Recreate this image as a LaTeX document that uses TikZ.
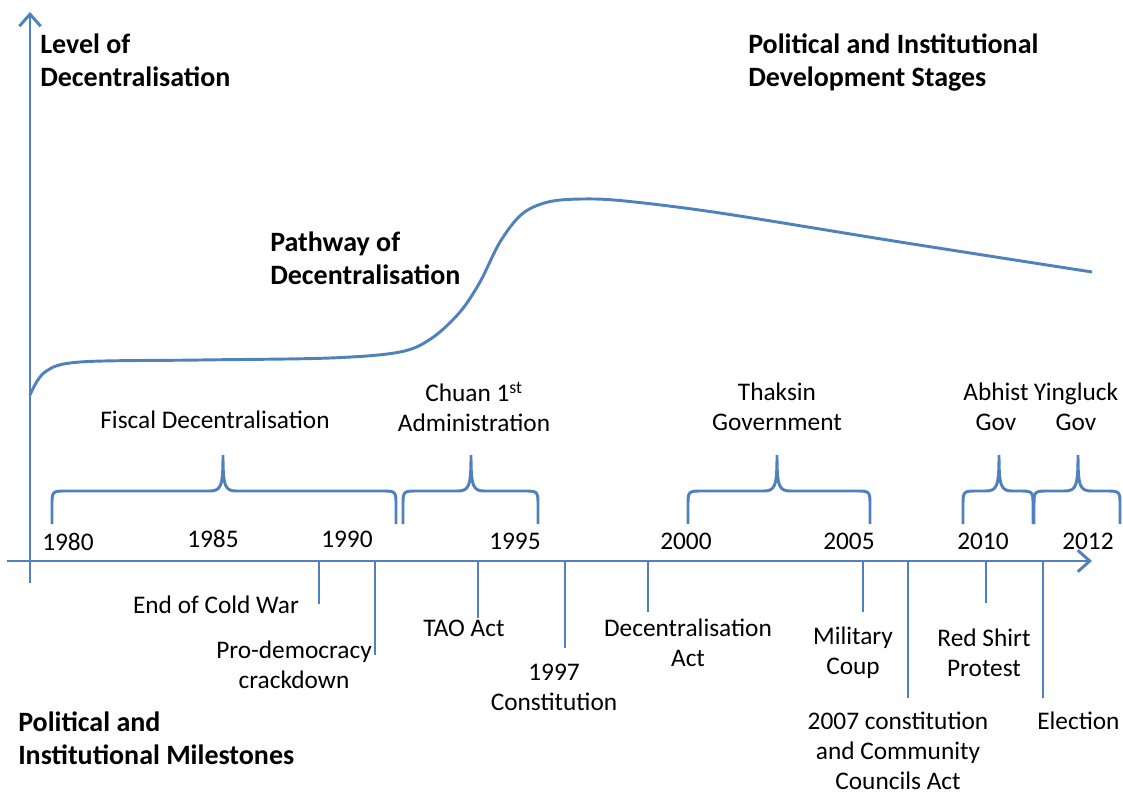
\documentclass[tikz,border=0pt]{standalone}
\usepackage{fontspec}
\setmainfont{Carlito}
\usetikzlibrary{arrows.meta}
\definecolor{axblue}{RGB}{79,129,189}
\tikzset{
  axisline/.style={draw=axblue, line width=2.2pt},
  brace/.style={draw=axblue, line width=2.2pt},
  tick/.style={draw=axblue, line width=2.2pt},
  curve/.style={draw=axblue, line width=2.2pt},
  lbl/.style={font=\fontsize{19}{22.5}\selectfont, inner sep=0pt, align=center},
  head/.style={font=\fontsize{21}{24.5}\selectfont\bfseries, inner sep=0pt, align=left},
  yr/.style={font=\fontsize{19}{22.5}\selectfont, inner sep=0pt, anchor=west},
  tip/.style={-{Straight Barb[length=9pt,width=16pt,line width=2.2pt]}}
}
\newcommand{\tlbrace}[3]{%
  \draw[brace] (#1,524) -- (#1,506) .. controls (#1,491) .. ({#1+15},491)
   -- ({#2-14},491) .. controls ({#2-2},491) and (#2,487) .. (#2,455)
   .. controls (#2,487) and ({#2+2},491) .. ({#2+14},491)
   -- ({#3-15},491) .. controls (#3,491) .. (#3,506) -- (#3,524);}
\begin{document}
\begin{tikzpicture}[x=0.75pt,y=-0.75pt]
\useasboundingbox (0,0) rectangle (1123,796);
\clip (0,0) rectangle (1123,796);
% axes
\coordinate (vbot) at (30,583);
\coordinate (vtop) at (30,12);
\coordinate (hleft) at (7,561);
\coordinate (hright) at (1092,561);
\draw[axisline,tip] (vbot) -- (vtop);
\draw[axisline,tip] (hleft) -- (hright);
% pathway curve
\draw[curve] plot[smooth, tension=0.55] coordinates {(30,395) (45,372) (80,362) (200,360) (330,358) (400,352) (432,338) (460,312) (480,282) (500,242) (522,214) (548,202) (582,199) (625,201) (720,213) (900,242) (1092,272)};
% braces
\tlbrace{52}{223}{396}
\tlbrace{403}{471}{538}
\tlbrace{688}{777}{870}
\tlbrace{963}{999}{1033}
\tlbrace{1034}{1078}{1120}
% milestone ticks
\foreach \nm/\x/\y in {cw/319/604, pd/375/655, tao/478/618, con/565/648, dec/648/612, mil/863/612, c07/908/698, red/986/603, ele/1043/698}{
  \coordinate (\nm top) at (\x,561);
  \coordinate (\nm end) at (\x,\y);
  \draw[tick] (\nm top) -- (\nm end);
}
% headings
\node[head, anchor=north west] (h1) at (40,34) {Level of\\Decentralisation};
\node[head, anchor=north west] (h2) at (748,34) {Political and Institutional\\Development Stages};
\node[head, anchor=north west] (h3) at (270,232) {Pathway of\\Decentralisation};
\node[head, anchor=north west] (h4) at (18,712) {Political and\\Institutional Milestones};
% stage labels
\node[lbl] (fis) at (215,420) {Fiscal Decentralisation};
\node[lbl] (chu) at (474,407) {Chuan 1\textsuperscript{st}\\Administration};
\node[lbl] (tha) at (777,407) {Thaksin\\Government};
\node[lbl] (abh) at (996,407) {Abhist\\Gov};
\node[lbl] (yin) at (1076,407) {Yingluck\\Gov};
% years
\node[yr] (y80) at (42,542) {1980};
\node[yr] (y85) at (187,539) {1985};
\node[yr] (y90) at (321,539) {1990};
\node[yr] (y95) at (489,541) {1995};
\node[yr] (y00) at (660,541) {2000};
\node[yr] (y05) at (823,541) {2005};
\node[yr] (y10) at (957,541) {2010};
\node[yr] (y12) at (1062,541) {2012};
% milestone labels
\node[lbl] (lcw) at (216,605) {End of Cold War};
\node[lbl] (lpd) at (294,665) {Pro-democracy\\crackdown};
\node[lbl] (ltao) at (464,628) {TAO Act};
\node[lbl] (lcon) at (554,687) {1997\\Constitution};
\node[lbl] (ldec) at (688,643) {Decentralisation\\Act};
\node[lbl] (lmil) at (853,653) {Military\\Coup};
\node[lbl] (lred) at (984,653) {Red Shirt\\Protest};
\node[lbl] (l07) at (898,751) {2007 constitution\\and Community\\Councils Act};
\node[lbl, anchor=west] (lele) at (1037,721) {Election};
\end{tikzpicture}
\end{document}
